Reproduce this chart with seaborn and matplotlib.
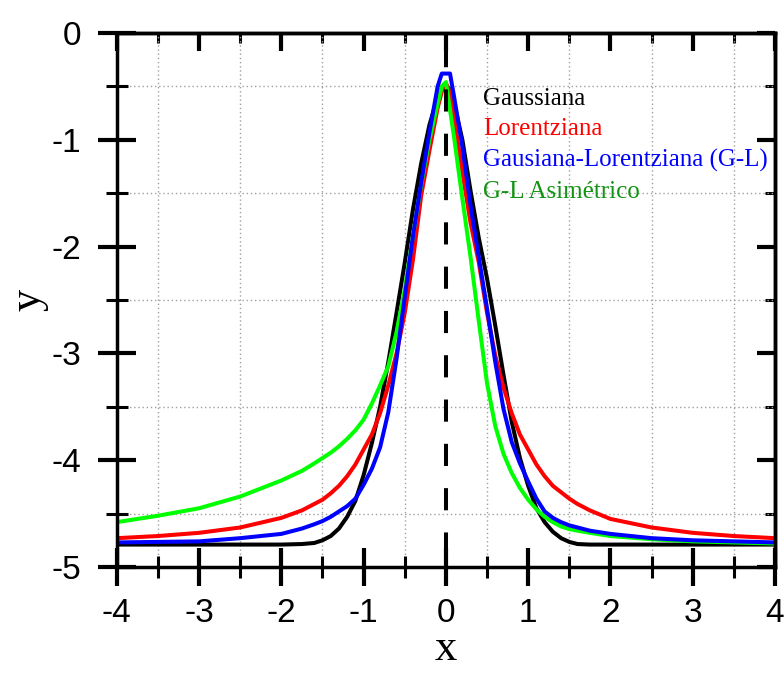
import matplotlib
matplotlib.use("Agg")
import matplotlib.pyplot as plt
from matplotlib.ticker import MultipleLocator
from matplotlib.lines import Line2D
import seaborn as sns
import pandas as pd

# valores
x_vals = [-4, -3.5, -3, -2.5, -2, -1.75, -1.6, -1.5, -1.4, -1.3, -1.2, -1.1, -1.0,
          -0.9, -0.8, -0.7, -0.6, -0.5, -0.4, -0.3, -0.2, -0.1, -0.05, 0, 0.05,
          0.1, 0.2, 0.3, 0.4, 0.5, 0.6, 0.7, 0.8, 0.9, 1.0, 1.1, 1.2, 1.3, 1.4,
          1.5, 1.6, 1.75, 2, 2.5, 3, 3.5, 4]

gaussiana = [-4.79, -4.79, -4.79, -4.79, -4.79, -4.785, -4.775, -4.75, -4.71, -4.64,
             -4.53, -4.38, -4.14, -3.84, -3.50, -3.08, -2.62, -2.15, -1.65, -1.22,
             -0.86, -0.60, -0.52, -0.49, -0.53, -0.66, -1.00, -1.48, -1.92, -2.30,
             -2.74, -3.20, -3.64, -3.98, -4.24, -4.45, -4.58, -4.67, -4.73, -4.765,
             -4.785, -4.79, -4.79, -4.79, -4.79, -4.79, -4.79]

lorentziana = [-4.73, -4.71, -4.68, -4.63, -4.54, -4.47, -4.41, -4.37, -4.31, -4.24,
               -4.15, -4.04, -3.90, -3.76, -3.56, -3.30, -3.00, -2.62, -2.12, -1.52,
               -1.10, -0.70, -0.55, -0.47, -0.55, -0.80, -1.30, -1.78, -2.15, -2.62,
               -3.02, -3.32, -3.56, -3.76, -3.90, -4.04, -4.15, -4.24, -4.30, -4.36,
               -4.41, -4.47, -4.55, -4.63, -4.68, -4.71, -4.73]

gaus_lor = [-4.77, -4.765, -4.76, -4.73, -4.69, -4.64, -4.60, -4.57, -4.53, -4.48,
            -4.43, -4.36, -4.23, -4.08, -3.88, -3.55, -3.05, -2.47, -1.90, -1.40,
            -0.93, -0.50, -0.38, -0.38, -0.38, -0.60, -1.06, -1.62, -2.10, -2.58,
            -3.08, -3.52, -3.83, -4.03, -4.20, -4.36, -4.48, -4.54, -4.58, -4.61,
            -4.63, -4.66, -4.69, -4.73, -4.75, -4.76, -4.77]

gl_asimetrico = [-4.58, -4.52, -4.45, -4.34, -4.19, -4.10, -4.03, -3.98, -3.93, -3.87,
                 -3.80, -3.72, -3.62, -3.47, -3.30, -3.12, -2.80, -2.40, -1.90, -1.42,
                 -1.00, -0.66, -0.50, -0.46, -0.72, -0.98, -1.55, -2.10, -2.70, -3.28,
                 -3.68, -3.94, -4.12, -4.26, -4.37, -4.46, -4.53, -4.58, -4.62, -4.645,
                 -4.66, -4.68, -4.71, -4.74, -4.76, -4.77, -4.78]

etiquetas = ["Gaussiana", "Lorentziana", "Gausiana-Lorentziana (G-L)", "G-L Asimétrico"]
colores_linea = ["#000000", "#ff0000", "#0000ff", "#00ff00"]
colores_texto = ["#000000", "#ff0000", "#0000ff", "#139313"]

# linea vertical discontinua en x = 0
vline_x = [0, 0]
vline_y = [0, -5]

sns.set_theme(style="white")
plt.rcParams["font.family"] = ["Liberation Sans", "DejaVu Sans"]
plt.rcParams["axes.unicode_minus"] = False

df = pd.DataFrame({
    "x": x_vals * 4,
    "y": gaussiana + lorentziana + gaus_lor + gl_asimetrico,
    "curva": [e for e in etiquetas for _ in x_vals],
})

fig = plt.figure(figsize=(7.84, 6.73), dpi=100)
ax = fig.add_axes([0.149, 0.1575, 0.8395, 0.7935])

orden = ["Gaussiana", "Lorentziana", "G-L Asimétrico", "Gausiana-Lorentziana (G-L)"]
sns.lineplot(data=df, x="x", y="y", hue="curva", hue_order=orden,
             palette=dict(zip(etiquetas, colores_linea)), linewidth=2.9,
             estimator=None, sort=False, legend=False, ax=ax)

ax.plot(vline_x, vline_y, color="black", linewidth=2.9,
        linestyle=(8, (5.5, 5.5)), zorder=5)

ax.set_xlim(-4, 4)
ax.set_ylim(-5, 0)
ax.xaxis.set_major_locator(MultipleLocator(1))
ax.xaxis.set_minor_locator(MultipleLocator(0.5))
ax.yaxis.set_major_locator(MultipleLocator(1))
ax.yaxis.set_minor_locator(MultipleLocator(0.5))

# rejilla punteada solo en los valores medios
ax.grid(False)
ax.grid(which="minor", color="#a0a0a0", linestyle=(0, (1, 2)), linewidth=1)
ax.set_axisbelow(True)

ax.tick_params(which="major", direction="inout", length=27, width=3, color="black",
               labelsize=24, labelcolor="black", bottom=True, left=True,
               top=False, right=False)
ax.tick_params(which="minor", direction="inout", length=16, width=2.2, color="black",
               bottom=True, left=True, top=False, right=False)
ax.tick_params(axis="x", which="major", pad=9)
ax.tick_params(axis="y", which="major", pad=12)

for s in ax.spines.values():
    s.set_linewidth(2.5)
    s.set_color("black")

# marcas hacia dentro arriba y a la derecha
secx = ax.secondary_xaxis("top")
secx.xaxis.set_major_locator(MultipleLocator(1))
secx.xaxis.set_minor_locator(MultipleLocator(0.5))
secx.tick_params(which="major", direction="in", length=13, width=3, color="black",
                 labeltop=False)
secx.tick_params(which="minor", direction="in", length=7, width=2.2, color="black")
secx.spines["top"].set_linewidth(2.5)
secx.spines["top"].set_color("black")

secy = ax.secondary_yaxis("right")
secy.yaxis.set_major_locator(MultipleLocator(1))
secy.yaxis.set_minor_locator(MultipleLocator(0.5))
secy.tick_params(which="major", direction="in", length=13, width=3, color="black",
                 labelright=False)
secy.tick_params(which="minor", direction="in", length=7, width=2.2, color="black")
secy.spines["right"].set_linewidth(2.5)
secy.spines["right"].set_color("black")

ax.set_xlabel("x", fontfamily=["Liberation Serif"], fontsize=32, labelpad=0,
              color="black")
ax.set_ylabel("y", fontfamily=["Liberation Serif"], fontsize=32, labelpad=2.5,
              color="black")

handles = [Line2D([], [], linestyle="none") for _ in etiquetas]
leg = ax.legend(handles, etiquetas, loc="upper left", bbox_to_anchor=(0.556, 0.8985),
                frameon=False, handlelength=0, handletextpad=0, borderpad=0,
                borderaxespad=0, labelspacing=0.33,
                prop={"family": ["Liberation Serif"], "size": 18})
for t, c in zip(leg.get_texts(), colores_texto):
    t.set_color(c)

fig.savefig("out.png", dpi=100)
